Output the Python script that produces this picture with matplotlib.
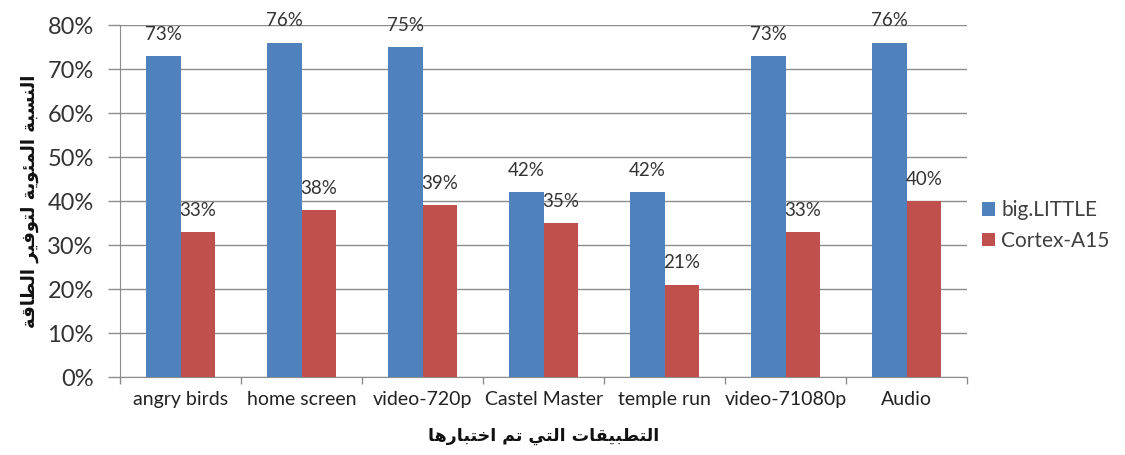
"""
Energy saving per tested application - big.LITTLE vs Cortex-A15 (Excel-style grouped bars).
"""

import matplotlib
matplotlib.use("Agg")
import matplotlib.pyplot as plt
import matplotlib.ticker as mticker
import numpy as np

# ── Data ────────────────────────────────────────────────────────────────
apps = ["angry birds", "home screen", "video-720p", "Castel Master",
        "temple run", "video-71080p", "Audio"]
big_little = [73, 76, 75, 42, 42, 73, 76]
cortex_a15 = [33, 38, 39, 35, 21, 33, 40]
series_names = ["big.LITTLE", "Cortex-A15"]

Y_LABEL = "النسبة المئوية لتوفير الطاقة"
X_LABEL = "التطبيقات التي تم اختبارها"

BLUE = "#4F81BD"
RED = "#C0504D"
GRID = "#8C8C8C"
TEXT = "#404040"


# ── Minimal Arabic shaping (matplotlib has no bidi/shaping) ─────────────
# char: (isolated, final, initial, medial); None initial => right-joining only
FORMS = {
    "ا": ("\uFE8D", "\uFE8E", None, None),
    "ب": ("\uFE8F", "\uFE90", "\uFE91", "\uFE92"),
    "ة": ("\uFE93", "\uFE94", None, None),
    "ت": ("\uFE95", "\uFE96", "\uFE97", "\uFE98"),
    "خ": ("\uFEA5", "\uFEA6", "\uFEA7", "\uFEA8"),
    "ر": ("\uFEAD", "\uFEAE", None, None),
    "س": ("\uFEB1", "\uFEB2", "\uFEB3", "\uFEB4"),
    "ط": ("\uFEC1", "\uFEC2", "\uFEC3", "\uFEC4"),
    "ف": ("\uFED1", "\uFED2", "\uFED3", "\uFED4"),
    "ق": ("\uFED5", "\uFED6", "\uFED7", "\uFED8"),
    "ل": ("\uFEDD", "\uFEDE", "\uFEDF", "\uFEE0"),
    "م": ("\uFEE1", "\uFEE2", "\uFEE3", "\uFEE4"),
    "ن": ("\uFEE5", "\uFEE6", "\uFEE7", "\uFEE8"),
    "ه": ("\uFEE9", "\uFEEA", "\uFEEB", "\uFEEC"),
    "و": ("\uFEED", "\uFEEE", None, None),
    "ى": ("\uFEEF", "\uFEF0", None, None),
    "ي": ("\uFEF1", "\uFEF2", "\uFEF3", "\uFEF4"),
    "ئ": ("\uFE89", "\uFE8A", "\uFE8B", "\uFE8C"),
}


def shape_arabic(s):
    out = []
    for i, ch in enumerate(s):
        if ch not in FORMS:
            out.append(ch)
            continue
        prev = s[i - 1] if i > 0 else None
        nxt = s[i + 1] if i + 1 < len(s) else None
        joins_prev = prev in FORMS and FORMS[prev][2] is not None
        joins_next = FORMS[ch][2] is not None and nxt in FORMS
        iso, fin, ini, med = FORMS[ch]
        if joins_prev and joins_next:
            out.append(med)
        elif joins_prev:
            out.append(fin)
        elif joins_next:
            out.append(ini)
        else:
            out.append(iso)
    return "".join(out)[::-1]


# ── Plot ────────────────────────────────────────────────────────────────
plt.rcParams.update({
    "font.family": ["Lato", "DejaVu Sans"],
    "text.color": TEXT,
    "xtick.color": GRID,
    "ytick.color": GRID,
    "xtick.labelcolor": "#222222",
    "ytick.labelcolor": "#333333",
})

fig = plt.figure(figsize=(11.25, 4.55), dpi=100)
ax = fig.add_axes([0.1067, 0.1714, 0.753, 0.7736])

x = np.arange(len(apps))
w = 1 / 3.5  # Excel gap width 150%
b1 = ax.bar(x - w / 2, big_little, w, color=BLUE, label=series_names[0], zorder=3)
b2 = ax.bar(x + w / 2, cortex_a15, w, color=RED, label=series_names[1], zorder=3)

for bars, vals in ((b1, big_little), (b2, cortex_a15)):
    for bar, v in zip(bars, vals):
        ax.annotate(f"{v}%", (bar.get_x() + bar.get_width() / 2, v),
                    xytext=(0, 9.5), textcoords="offset points",
                    ha="center", va="bottom", fontsize=13.5, color="#333333")

ax.set_xlim(-0.5, len(apps) - 0.5)
ax.set_ylim(0, 80)
ax.yaxis.set_major_locator(mticker.MultipleLocator(10))
ax.yaxis.set_major_formatter(mticker.FuncFormatter(lambda v, _: f"{v:.0f}%"))
ax.tick_params(axis="y", labelsize=17, length=9, width=1, pad=10)

ax.set_xticks(x)
ax.set_xticklabels(apps, fontsize=14)
ax.set_xticks(np.arange(len(apps) + 1) - 0.5, minor=True)
ax.tick_params(axis="x", which="major", length=0, pad=10)
ax.tick_params(axis="x", which="minor", length=5, width=1)

ax.grid(axis="y", color=GRID, linewidth=1, zorder=0)
for side in ("top", "right"):
    ax.spines[side].set_visible(False)
ax.spines["left"].set_color(GRID)
ax.spines["bottom"].set_color(GRID)

ax.set_ylabel(shape_arabic(Y_LABEL), fontsize=13, fontweight="bold",
              family="DejaVu Sans", color="#111111", labelpad=6)
ax.set_xlabel(shape_arabic(X_LABEL), fontsize=12.5, fontweight="bold",
              family="DejaVu Sans", color="#111111", labelpad=14)

leg = ax.legend(loc="center left", bbox_to_anchor=(1.008, 0.43), frameon=False,
                fontsize=15, handlelength=0.6, handleheight=0.6,
                handletextpad=0.3, labelspacing=0.5, borderaxespad=0.0)

fig.savefig("out.png", dpi=100)
plt.close(fig)
